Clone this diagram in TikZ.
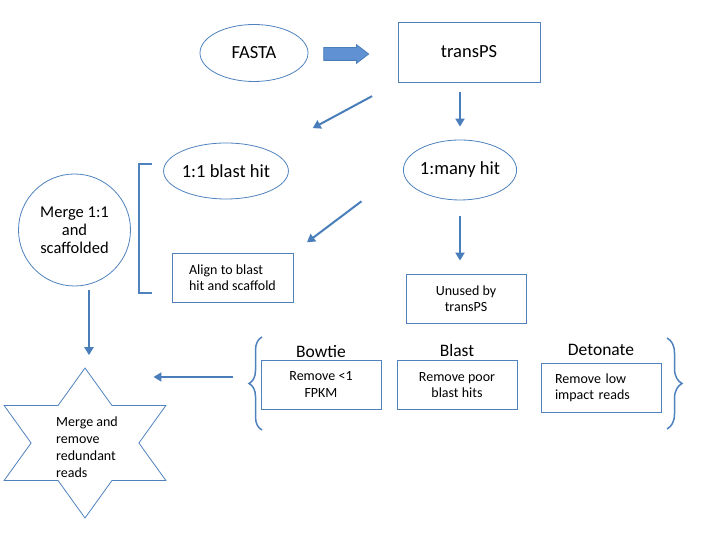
\documentclass[tikz,border=0pt]{standalone}
\usepackage{fontspec}
\setmainfont{Carlito}
\usetikzlibrary{arrows.meta, positioning, shapes.geometric, shapes.arrows, decorations.pathreplacing}
\definecolor{pptedge}{RGB}{79,129,189}
\definecolor{pptline}{RGB}{74,126,187}
\definecolor{pptfill}{RGB}{96,145,210}

\begin{document}
\begin{tikzpicture}[
    x=1pt, y=1pt,
    >={Triangle[length=8pt,width=9pt]},
    line width=0.8pt,
    oval/.style 2 args={
        ellipse,
        draw=pptedge,
        minimum width=#1,
        minimum height=#2,
        inner sep=0pt,
        font=\fontsize{18.5}{21}\selectfont
    },
    box/.style={
        draw=pptedge,
        minimum width=120pt,
        minimum height=49pt,
        align=center,
        inner sep=0pt,
        font=\fontsize{14}{16}\selectfont
    },
    tag/.style={
        font=\fontsize{17.5}{20}\selectfont,
        inner sep=1pt
    },
    hexstar/.style={
        star,
        star points=6,
        star point ratio=1.732,
        draw=pptedge,
        minimum size=150pt,
        inner sep=0pt,
        xscale=1.245,
        transform shape
    },
    flow/.style={->, draw=pptline, line width=2pt},
    brace/.style={decorate, decoration={brace, amplitude=#1}, draw=pptedge, line width=1.5pt}
]
\useasboundingbox (0,0) rectangle (720,540);

\node[oval={108pt}{57pt}] (fasta) at (254,487) {FASTA};
\node[box, minimum width=142pt, minimum height=60pt, font=\fontsize{18.5}{21}\selectfont] (transps) at (469,488) {transPS};
\node[single arrow, draw=pptline, fill=pptfill, minimum height=45pt, inner ysep=6pt, inner xsep=0pt,
      single arrow head extend=3pt, single arrow tip angle=75] (feed) at (342,486) {};

\node[oval={101pt}{56pt}] (onehit) at (226,369) {1:1 blast hit};
\node[oval={101pt}{60pt}] (manyhit) at (460,370) {1:many hit};

\node[box, minimum width=121pt, align=left] (alignbox) at (232.5,262.5) {Align to blast\\hit and scaffold};
\node[box] (unused) at (466,241.5) {Unused by\\transPS};

\node[circle, draw=pptedge, minimum size=112pt, inner sep=0pt, align=center,
      font=\fontsize{16.5}{18}\selectfont] (mergeone) at (74.5,310) {Merge 1:1\\and\\scaffolded};
\draw[draw=pptedge, line width=2pt] (152,376) -| (139,247) -- (152,247);

\node[hexstar] (mergeall) at (85,97) {};
\node[align=left, font=\fontsize{14}{17}\selectfont] (mergetext) at (87,93) {Merge and\\remove\\redundant\\reads};

\node[box] (bowtie) at (321,155.5) {Remove <1\\FPKM};
\node[box] (blast) at (457,155) {Remove poor\\blast hits};
\node[box, align=left, text width=92pt, inner xsep=14pt] (detonate) at (601,152.5) {Remove low\\impact reads};
\node[tag, above=1pt of bowtie] (bowtietag) {Bowtie};
\node[tag, above=2pt of blast] (blasttag) {Blast};
\node[tag, above=6pt of detonate] (detonatetag) {Detonate};

\draw[brace=13pt] (262,110) -- (262,203);
\draw[brace=15pt] (667,202) -- (667,111);
\coordinate (filters) at (233,163);

\draw[flow, shorten <=10pt, shorten >=13pt] (transps.south -| manyhit.north) -- (manyhit.north);
\draw[flow, shorten <=29pt, shorten >=48pt] (transps.south west) -- (onehit.north east);
\draw[flow, shorten <=52pt, shorten >=17pt] (manyhit.west) -- (alignbox.north east);
\draw[flow, shorten <=16pt, shorten >=13pt] (manyhit.south) -- (manyhit.south |- unused.north);
\draw[flow, shorten <=4pt, shorten >=12pt] ([xshift=14.5pt]mergeone.south) -- ([xshift=14.5pt]mergeone.south |- mergeall.north);
\draw[flow, shorten >=14pt] (filters) -- (filters -| mergeall.east);

\end{tikzpicture}
\end{document}
